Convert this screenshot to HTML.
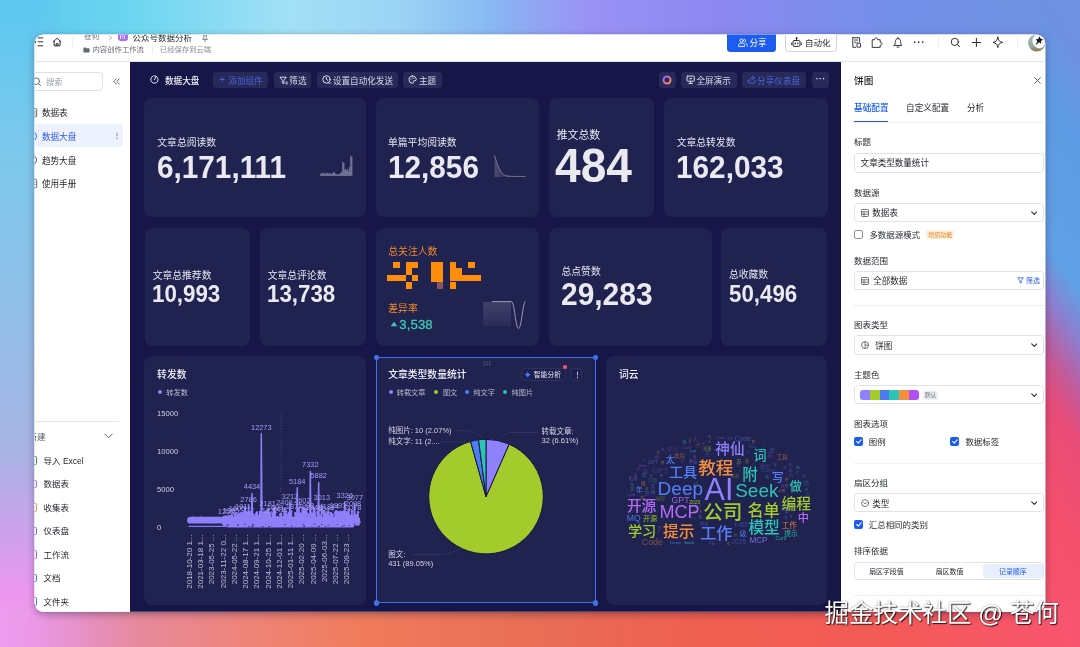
<!DOCTYPE html>
<html lang="zh-CN">
<head>
<meta charset="utf-8">
<title>公众号数据分析 - 数据大盘</title>
<style>
*{box-sizing:border-box;margin:0;padding:0}
html,body{width:1080px;height:647px;overflow:hidden}
body{position:relative;font-family:"Liberation Sans","Noto Sans CJK SC",sans-serif;font-size:8.6px;color:#1f2329;background:#e87058}
.abs,.abs *{position:absolute}
.t{white-space:nowrap;line-height:1;transform:translateY(-50%);margin-top:.07em}
.la{margin-top:0}
#bg{position:absolute;left:0;top:0;width:1080px;height:647px;
background:
linear-gradient(90deg,#5cc6ee 0px,#6cd6f0 130px,#a2e0f5 290px,#9cd4f5 400px,#88b8f2 490px,#9a92f5 590px,#8c88f0 720px,#7290e8 900px,#7092e0 1080px);}
#bgL{position:absolute;left:0;top:0;width:60px;height:647px;background:linear-gradient(180deg,#5cc8f0 0,#7cc8ec 150px,#90c0e8 300px,#a8b4e4 450px,#d0a0ec 540px,#ec98f0 590px,#f092ea 647px);-webkit-mask-image:linear-gradient(90deg,#000 34px,transparent 60px);mask-image:linear-gradient(90deg,#000 34px,transparent 60px)}
#bgB{position:absolute;left:0;top:592px;width:1080px;height:55px;background:linear-gradient(90deg,#ee9cf0 0,#ea98e4 40px,#e690c0 90px,#e88a9c 140px,#ee8478 250px,#f07c5c 360px,#e86e56 540px,#f06050 700px,#f45a58 900px,#f85470 1080px);-webkit-mask-image:linear-gradient(180deg,transparent 0,#000 22px);mask-image:linear-gradient(180deg,transparent 0,#000 22px)}
#bgR{position:absolute;left:1040px;top:0;width:40px;height:647px;background:linear-gradient(235deg,#7090e0 7%,#5c9ce4 21%,#60a0e4 42%,#8a80d0 48.500%,#c05c9c 56%,#e84c78 63%,#f4506c 78%,#f85470 99%)}
#shadow{position:absolute;left:34.5px;top:34.5px;width:1010.8px;height:577.3px;border-radius:9px;box-shadow:0 2px 8px rgba(30,15,50,.38),0 0 2px rgba(30,15,50,.25)}
#win{position:absolute;left:0;top:0;width:1080px;height:647px;clip-path:inset(34.5px 34.7px 35.2px 34.5px round 9px);background:#fff}
#dash{left:130px;top:61.5px;width:711.3px;height:551px;background:#161648}
.card{background:#20224f;border-radius:8px}
#dashc{left:0;top:0;width:0;height:0}
.tb{top:71.6px;height:16.7px;border-radius:3.5px;background:#272958;color:#dadae8;font-size:8.6px}
.ct{font-size:9.8px;color:#f2f2f8;font-weight:500}
.lg{font-size:7.2px;color:#b9b9d0}
.dot{width:4.4px;height:4.4px;border-radius:50%}
.hd{width:5.4px;height:5.4px;border-radius:50%;background:#3d73e6}
.pl{font-size:7.5px;color:#d6d6e6}
.pt{left:854.1px;font-size:8.5px;color:#1f2329}
.bx{left:853.8px;width:190.7px;border:.8px solid #dfe2e6;border-radius:3.500px;background:#fff}
.lab{color:#e6e6f0;font-size:9.8px}
.num{margin-top:0;color:#e9e9ef;font-weight:bold;font-family:"Liberation Sans",sans-serif;transform-origin:left center}
</style>
</head>
<body>
<div id="bg"></div><div id="bgL"></div><div id="bgR"></div><div id="bgB"></div>
<div id="shadow"></div>
<div id="win" class="abs">
<!-- HEADER -->
<div id="hdr" style="left:34px;top:34px;width:1012px;height:27.7px;background:#fff;border-bottom:1px solid #e4e5e9"></div>
<svg style="left:34px;top:34px" width="30" height="16" viewBox="34 34 30 16" fill="none" stroke="#2b2f36" stroke-width="1" stroke-linecap="round"><path d="M38.2 37.9h4.600M38.2 41.800h4.600M38.2 45.800h4.600"/><path d="M34.2 40.2l1.800 1.600-1.800 1.600" stroke-width=".9"/><path d="M53.2 41.800L57.100 38.300 61 41.800M54.2 41.200V45.800H60V41.200M56.2 45.800V43.600H58V45.800" stroke-linejoin="round"/></svg>
<div style="left:72px;top:37px;width:.7px;height:11px;background:#f1f2f5"></div>
<div class="t" style="left:83.7px;top:36.9px;font-size:7.9px;color:#646a73">苍何</div>
<svg style="left:107.5px;top:34.5px" width="5" height="6" viewBox="0 0 5 6" fill="none" stroke="#8f959e" stroke-width=".8"><path d="M1.200.8L3.600 3 1.200 5.200"/></svg>
<div style="left:118px;top:31.8px;width:9.6px;height:9.6px;border-radius:2.4px;background:#a56ef4"></div>
<svg style="left:120.2px;top:34.6px" width="5.2" height="4.800" viewBox="0 0 5.2 4.800" fill="none" stroke="#fff" stroke-width=".9"><path d="M.5.3V3.600c0 .4.300.700.700.700H4c.4 0 .700-.3.700-.7V.3M2.600.3v2"/></svg>
<div class="t" style="left:132.4px;top:37px;font-size:8.5px;color:#1f2329">公众号数据分析</div>
<svg style="left:200.5px;top:34.500px" width="8" height="8" viewBox="0 0 8 8" fill="none" stroke="#646a73" stroke-width=".8" stroke-linecap="round"><path d="M2.400 0L5.600 0M2.800 0V2.600L1.600 4.400H6.400L5.200 2.600V0M4 4.400V7"/></svg>
<svg style="left:82.6px;top:47px" width="7" height="6" viewBox="0 0 7 6"><path d="M.4.900c0-.3.200-.5.500-.5H2.600l.7.800H6.100c.3 0 .5.200.5.500V5c0 .3-.2.500-.5.500H.9C.600 5.500.400 5.300.400 5Z" fill="#646a73"/></svg>
<div class="t" style="left:92.5px;top:49.8px;font-size:7.35px;color:#646a73">内容创作工作流</div>
<div style="left:151.5px;top:45.8px;width:.6px;height:8px;background:#eceef1"></div>
<div class="t" style="left:159.8px;top:49.8px;font-size:7.35px;color:#8a9099">已经保存到云端</div>
<!-- header right -->
<div style="left:726.9px;top:30px;width:49.5px;height:21.7px;border-radius:3.5px;background:#1c5cf0"></div>
<svg style="left:737.6px;top:38px" width="10" height="9" viewBox="0 0 10 9" fill="none" stroke="#fff" stroke-width=".9" stroke-linecap="round"><circle cx="3.600" cy="2.600" r="1.700"/><path d="M.6 8V7.200c0-1.400 1.200-2.200 3-2.200s3 .8 3 2.200V8Z" stroke-linejoin="round"/><path d="M6.600 1.200a1.600 1.600 0 0 1 0 3M8 5.600c.9.300 1.400.9 1.400 1.700V8"/></svg>
<div class="t" style="left:749.5px;top:42.4px;font-size:8.6px;color:#fff">分享</div>
<div style="left:784.5px;top:30px;width:52.8px;height:21.7px;border-radius:3.5px;border:.8px solid #d0d3d9;background:#fff"></div>
<svg style="left:791.3px;top:36.800px" width="11" height="11" viewBox="0 0 11 11" fill="none" stroke="#1f2329" stroke-width=".95" stroke-linecap="round"><rect x="2" y="3.600" width="7" height="5.800" rx="1.200"/><path d="M5.500 1.200V3.600M.7 6v1.600M10.300 6v1.600"/><circle cx="5.500" cy="1.100" r=".5" fill="#1f2329"/><path d="M4.200 6.100v.9M6.800 6.100v.9" stroke-width="1.100"/></svg>
<div class="t" style="left:805px;top:42.4px;font-size:8.5px;color:#1f2329">自动化</div>
<svg style="left:850px;top:36px" width="80" height="14" viewBox="850 36 80 14" fill="none" stroke="#2b2f36" stroke-width=".95" stroke-linecap="round" stroke-linejoin="round">
<path d="M852.8 37.700H859.600V42M852.800 37.700V47.300H855.800M854.600 40H857.800M854.600 42.200H856.200"/><rect x="857" y="43.200" width="3.600" height="4" rx=".5"/>
<path d="M872.600 39.700H874.700C874.600 38.600 875.300 37.800 876.200 37.800S877.800 38.600 877.700 39.700H880.200V42.300C881.300 42.200 882 42.800 882 43.700S881.300 45.200 880.200 45.100V47.400H872.600Z"/>
<path d="M894.200 45.400H901.800C900.800 44.400 900.700 43.400 900.700 41.700 900.700 39.800 899.600 38.600 898 38.600S895.300 39.800 895.300 41.700C895.300 43.400 895.200 44.400 894.200 45.400ZM897 47H899M898 37.500V38.600"/>
</svg>
<div class="t la" style="left:913.300px;top:42.600px;font-size:10px;color:#2b2f36;font-weight:bold;letter-spacing:.6px">···</div>
<div style="left:937.6px;top:37px;width:.7px;height:11px;background:#eceef1"></div>
<svg style="left:948px;top:35px" width="56" height="15" viewBox="948 35 56 15" fill="none" stroke="#2b2f36" stroke-width="1" stroke-linecap="round" stroke-linejoin="round">
<circle cx="954.800" cy="41.900" r="3.600"/><path d="M957.500 44.600L959.600 46.700"/>
<path d="M976.400 38.400V46.600M972.300 42.500H980.500"/>
<path d="M997.800 37.200C998.300 40.500 999.500 41.700 1002.600 42.400 999.500 43.100 998.300 44.300 997.800 47.600 997.300 44.300 996.100 43.100 993 42.400 996.100 41.700 997.300 40.500 997.800 37.200Z"/>
</svg>
<div style="left:1016.8px;top:37px;width:.7px;height:11px;background:#eceef1"></div>
<svg style="left:1026px;top:32px" width="22" height="22" viewBox="1026 32 22 22"><defs><linearGradient id="av" x1="0" y1="0" x2="0" y2="1"><stop offset="0" stop-color="#a9b8b8"/><stop offset=".7" stop-color="#93a7a2"/><stop offset="1" stop-color="#8a7a50"/></linearGradient></defs><circle cx="1036.700" cy="42.800" r="8.600" fill="url(#av)"/><ellipse cx="1038.800" cy="41.300" rx="6.300" ry="7" transform="rotate(-25 1038.800 41.300)" fill="#fbfbfb"/><path d="M1039.500 36.200L1040.700 38.800 1043.200 39.600 1041 41 1041.200 43.800 1039.200 42.200 1035.500 45.200 1037.400 41.200 1035.800 39.200 1038.300 39Z" fill="#15181c"/></svg>

<!-- SIDEBAR -->
<div id="side" style="left:34px;top:61.7px;width:96px;height:551px;background:#fff"></div>
<div style="left:28px;top:71.9px;width:74.5px;height:19.6px;border:.8px solid #dcdfe4;border-radius:4px"></div>
<svg style="left:33px;top:77px" width="9" height="10" viewBox="0 0 9 10" fill="none" stroke="#646a73" stroke-width="1" stroke-linecap="round"><circle cx="3.200" cy="4.200" r="3.300"/><path d="M5.700 6.800L7.600 8.800"/></svg>
<div class="t" style="left:46.2px;top:82.3px;font-size:8.1px;color:#9aa0a8">搜索</div>
<svg style="left:112.6px;top:78.400px" width="7" height="7" viewBox="0 0 7 7" fill="none" stroke="#50565e" stroke-width=".85" stroke-linecap="round" stroke-linejoin="round"><path d="M3.200.8L.8 3.500 3.200 6.200M6.300.8L3.900 3.500 6.300 6.200"/></svg>
<div style="left:30px;top:123.900px;width:93.2px;height:23.100px;border-radius:4px;background:#eef1fe"></div>
<div class="t" style="left:41.9px;top:112.7px;font-size:8.6px;color:#1f2329">数据表</div>
<div class="t" style="left:41.9px;top:136.2px;font-size:8.6px;color:#2b5bf0">数据大盘</div>
<div class="t" style="left:41.9px;top:160px;font-size:8.6px;color:#1f2329">趋势大盘</div>
<div class="t" style="left:41.9px;top:183.5px;font-size:8.6px;color:#1f2329">使用手册</div>
<svg style="left:34px;top:100px" width="6" height="95" viewBox="34 100 6 95" fill="none" stroke-width=".9">
<rect x="29.500" y="108.500" width="7.200" height="8.400" rx="1" stroke="#50565e"/><path d="M34 111h1.600M34 113h1.600M34 115h1.600" stroke="#50565e"/>
<circle cx="32.600" cy="136.200" r="4" stroke="#2b5bf0"/>
<circle cx="32.600" cy="160" r="4" stroke="#50565e"/>
<rect x="29.500" y="179.300" width="7.200" height="8.400" rx="1" stroke="#50565e"/><path d="M34 182h1.400M34 184.500h1.400" stroke="#50565e"/>
</svg>
<div class="t la" style="left:112.600px;top:136px;font-size:7.5px;color:#8a9099;font-weight:bold">⋮</div>
<div style="left:34px;top:421px;width:85.2px;height:.8px;background:#e4e5e9"></div>
<div class="t" style="left:28.400px;top:436.2px;font-size:8.5px;color:#50565e">新建</div>
<svg style="left:103.600px;top:433px" width="9" height="6" viewBox="0 0 9 6" fill="none" stroke="#50565e" stroke-width=".9" stroke-linecap="round" stroke-linejoin="round"><path d="M.8 1L4.500 4.800 8.200 1"/></svg>
<div class="t" style="left:43.6px;top:460.4px;font-size:8.5px;color:#1f2329">导入 Excel</div>
<div style="left:29.200px;top:456.2px;width:7.600px;height:8.400px;border:1px solid #2ea24a;border-radius:1.5px"></div>
<div class="t" style="left:43.6px;top:483.6px;font-size:8.5px;color:#1f2329">数据表</div>
<div style="left:29.200px;top:479.90000000000003px;width:7.600px;height:8.400px;border:1px solid #8f6cf0;border-radius:1.5px"></div>
<div class="t" style="left:43.6px;top:507.4px;font-size:8.5px;color:#1f2329">收集表</div>
<div style="left:29.200px;top:503.2px;width:7.600px;height:8.400px;border:1px solid #f5913c;border-radius:1.5px"></div>
<div class="t" style="left:43.6px;top:530.5px;font-size:8.5px;color:#1f2329">仪表盘</div>
<div style="left:29.200px;top:526.8px;width:7.600px;height:8.400px;border:1px solid #5a6cf0;border-radius:1.5px"></div>
<div class="t" style="left:43.6px;top:554.5px;font-size:8.5px;color:#1f2329">工作流</div>
<div style="left:29.200px;top:550.3px;width:7.600px;height:8.400px;border:1px solid #a05cf0;border-radius:1.5px"></div>
<div class="t" style="left:43.6px;top:577.8px;font-size:8.5px;color:#1f2329">文档</div>
<div style="left:29.200px;top:573.5999999999999px;width:7.600px;height:8.400px;border:1px solid #3f72f5;border-radius:1.5px"></div>
<div class="t" style="left:43.6px;top:601.5px;font-size:8.5px;color:#1f2329">文件夹</div>
<div style="left:29.200px;top:597.3px;width:7.600px;height:8.400px;border:1px solid #3f72f5;border-radius:1.5px"></div>
<!-- DASHBOARD -->
<div id="dash"></div>
<div id="dashc">
<!-- toolbar -->
<svg style="left:149px;top:74.100px" width="11" height="11" viewBox="0 0 11 11" fill="none" stroke="#e8e8f2" stroke-width="1" stroke-linecap="round"><path d="M4.200 2A3.700 3.700 0 1 0 5.500 1.800"/><path d="M5.500 5.800L6.700 3"/></svg>
<div class="t" style="left:165px;top:80.2px;font-size:8.6px;color:#f2f2f8;font-weight:500">数据大盘</div>
<div class="tb" style="left:212.7px;width:55.6px;color:#4a62d6"><span style="left:6.5px;top:8.3px;font-size:10px" class="t la">+</span><span class="t" style="left:15.6px;top:8.4px">添加组件</span></div>
<div class="tb" style="left:274px;width:37px"><svg style="left:4.600px;top:4px" width="9.400" height="9.400" viewBox="0 0 8 8" fill="none" stroke="#dcdcea" stroke-width=".85"><path d="M.8 1h5.4L4.2 3.6V6.6L2.8 5.8V3.6Z"/><path d="M5.6 5.2h1.8M5.6 6.6h1.8"/></svg><span class="t" style="left:15.3px;top:8.4px">筛选</span></div>
<div class="tb" style="left:317.3px;width:80.4px"><svg style="left:5px;top:3.800px" width="9.300" height="9.300" viewBox="0 0 8.4 8.4" fill="none" stroke="#e0e0ec" stroke-width=".9" stroke-linecap="round"><circle cx="4" cy="4" r="3.3"/><path d="M4 2.2V4l1.2.8"/><path d="M5.6 6.8l1.2 1.2 1.2-1.2" stroke-width=".8"/></svg><span class="t" style="left:15.6px;top:8.4px">设置自动化发送</span></div>
<div class="tb" style="left:403.3px;width:38.4px"><svg style="left:5px;top:3.800px" width="9.300" height="9.300" viewBox="0 0 8.4 8.4" fill="none" stroke="#e0e0ec" stroke-width=".9" stroke-linecap="round"><path d="M4.2.9a3.3 3.3 0 1 0 0 6.6c.8 0 .9-.7.6-1.1-.4-.6 0-1.200.700-1.200h.8c.8 0 1.200-.5 1.200-1.200C7.500 2.400 6.100.9 4.200.9Z"/><path d="M2.600 3.800v0M3.800 2.600v0M5.500 2.900v0" stroke-width="1"/></svg><span class="t" style="left:15.6px;top:8.4px">主题</span></div>
<div class="tb" style="left:658.9px;width:17.1px"><svg style="left:3.5px;top:3.3px" width="10" height="10" viewBox="0 0 10 10" fill="none"><defs><linearGradient id="rg" x1="0" y1="0" x2="1" y2="1"><stop offset="0" stop-color="#7b6bff"/><stop offset=".5" stop-color="#e86aa8"/><stop offset="1" stop-color="#ff9a3c"/></linearGradient></defs><circle cx="5" cy="5" r="3.5" stroke="url(#rg)" stroke-width="2"/></svg></div>
<div class="tb" style="left:680.8px;width:55.8px"><svg style="left:5px;top:3.800px" width="9.300" height="9.300" viewBox="0 0 8.4 8.4" fill="none" stroke="#e0e0ec" stroke-width=".9" stroke-linecap="round"><rect x=".9" y="1" width="6.6" height="4.6" rx=".6"/><path d="M4.200 5.600v1.800M2.600 7.600h3.200M3.200 3.300h2"/></svg><span class="t" style="left:15.6px;top:8.4px">全屏演示</span></div>
<div class="tb" style="left:741.5px;width:64.7px;color:#4a66da"><svg style="left:5px;top:3.800px" width="9.300" height="9.300" viewBox="0 0 8.4 8.4" fill="none" stroke="#4a66da" stroke-width=".9" stroke-linecap="round" stroke-linejoin="round"><path d="M1.200 4.800v1.800c0 .4.300.700.700.700h4.600c.4 0 .700-.3.700-.7V4.800"/><path d="M5 1l1.800 1.600L5 4.200M6.600 2.600H4.400C3 2.600 2.400 3.600 2.400 4.800"/></svg><span class="t" style="left:15.6px;top:8.4px">分享仪表盘</span></div>
<div class="tb" style="left:812px;width:16.6px"><span class="t la" style="left:3.8px;top:7.6px;font-size:9px;letter-spacing:.2px;font-weight:bold">···</span></div>

<!-- row 1 -->
<div class="card" style="left:144px;top:98.3px;width:222px;height:119px"></div>
<div class="t lab" style="left:157.3px;top:142.3px">文章总阅读数</div>
<div class="t num" style="left:156.5px;top:166.8px;font-size:31px;transform:translateY(-50%) scaleX(.959)">6,171,111</div>
<svg style="left:0;top:0" width="1080" height="647" fill="#9496b2" opacity=".85"><rect x="320.3" y="173.9" width="1.05" height="2"/><rect x="321.3" y="172.9" width="1.05" height="3"/><rect x="322.3" y="172.9" width="1.05" height="3"/><rect x="323.3" y="173.9" width="1.05" height="2"/><rect x="324.3" y="172.9" width="1.05" height="3"/><rect x="325.3" y="173.9" width="1.05" height="2"/><rect x="326.3" y="172.9" width="1.05" height="3"/><rect x="327.3" y="172.9" width="1.05" height="3"/><rect x="328.3" y="173.9" width="1.05" height="2"/><rect x="329.3" y="172.9" width="1.05" height="3"/><rect x="330.3" y="173.9" width="1.05" height="2"/><rect x="331.3" y="173.9" width="1.05" height="2"/><rect x="332.3" y="172.9" width="1.05" height="3"/><rect x="333.3" y="171.9" width="1.05" height="4"/><rect x="334.3" y="172.9" width="1.05" height="3"/><rect x="335.3" y="173.9" width="1.05" height="2"/><rect x="336.3" y="174.4" width="1.05" height="1.5"/><rect x="337.3" y="174.4" width="1.05" height="1.5"/><rect x="338.3" y="173.9" width="1.05" height="2"/><rect x="339.3" y="173.9" width="1.05" height="2"/><rect x="340.3" y="172.9" width="1.05" height="3"/><rect x="341.3" y="171.9" width="1.05" height="4"/><rect x="342.3" y="161.9" width="1.05" height="14"/><rect x="343.3" y="162.9" width="1.05" height="13"/><rect x="344.3" y="169.9" width="1.05" height="6"/><rect x="345.3" y="168.9" width="1.05" height="7"/><rect x="346.3" y="170.9" width="1.05" height="5"/><rect x="347.3" y="168.9" width="1.05" height="7"/><rect x="348.3" y="171.9" width="1.05" height="4"/><rect x="349.3" y="166.9" width="1.05" height="9"/><rect x="350.3" y="155.9" width="1.05" height="20"/><rect x="351.3" y="156.9" width="1.05" height="19"/></svg>
<div class="card" style="left:375.5px;top:98.3px;width:163.4px;height:119px"></div>
<div class="t lab" style="left:388px;top:142.3px">单篇平均阅读数</div>
<div class="t num" style="left:387.5px;top:166.8px;font-size:31px;transform:translateY(-50%) scaleX(.959)">12,856</div>
<svg style="left:494px;top:154px" width="33" height="24" viewBox="0 0 33 24" fill="none"><defs><linearGradient id="g2" x1="0" y1="0" x2="1" y2="0"><stop offset="0" stop-color="#6c6d88" stop-opacity=".55"/><stop offset=".5" stop-color="#6c6d88" stop-opacity="0"/></linearGradient></defs><path d="M.5 1.500C3 9 5.500 18 10 21.200 13 22.600 20 22.500 31.500 22.400V23H.5Z" fill="url(#g2)"/><path d="M.5 1.500C3 9 5.500 18 10 21.200 13 22.600 20 22.500 31.500 22.400" stroke="#77798f" stroke-width="1"/></svg>
<div class="card" style="left:548.7px;top:98.3px;width:105.7px;height:119px"></div>
<div class="t" style="left:556.7px;top:134.4px;font-size:10.9px;color:#ececf4">推文总数</div>
<div class="t num" style="left:555.2px;top:166.4px;font-size:47.2px;transform:translateY(-50%) scaleX(.978)">484</div>
<div class="card" style="left:664.2px;top:98.3px;width:163.6px;height:119px"></div>
<div class="t lab" style="left:676.7px;top:142.3px">文章总转发数</div>
<div class="t num" style="left:675.8px;top:166.8px;font-size:31px;transform:translateY(-50%) scaleX(.96)">162,033</div>

<!-- row 2 -->
<div class="card" style="left:145px;top:227.6px;width:105px;height:118.6px"></div>
<div class="t lab" style="left:152.7px;top:275.3px">文章总推荐数</div>
<div class="t num" style="left:151.6px;top:294.6px;font-size:23.6px;transform:translateY(-50%) scaleX(.946)">10,993</div>
<div class="card" style="left:260px;top:227.6px;width:106px;height:118.6px"></div>
<div class="t lab" style="left:267.7px;top:275.3px">文章总评论数</div>
<div class="t num" style="left:266.6px;top:294.6px;font-size:23.6px;transform:translateY(-50%) scaleX(.946)">13,738</div>
<div class="card" style="left:375.5px;top:227.6px;width:163.4px;height:118.6px"></div>
<div class="t" style="left:388.3px;top:251.2px;font-size:9.8px;color:#f08a2a">总关注人数</div>
<svg id="mosaic" style="left:387px;top:261.7px" width="94" height="27.2" viewBox="0 0 15 4.340" preserveAspectRatio="none" fill="#ff8c0a" shape-rendering="crispEdges">
<rect x="1" y="0" width="1" height="1"/><rect x="3" y="0" width="2" height="1"/><rect x="7" y="0" width="2" height="3.200"/><rect x="10" y="0" width="1" height="3"/><rect x="13" y="0" width="1" height="1"/>
<rect x="3" y="1" width="1" height="1"/><rect x="11" y="1" width="1" height="1"/>
<rect x="0" y="2.100" width="3" height="1"/><rect x="4" y="2.100" width="1" height="1"/><rect x="11" y="2.100" width="4" height="1"/>
<rect x="3" y="3.200" width="1" height="1.100"/><rect x="8" y="3.200" width="1" height="1.100" fill="#8a5560"/><rect x="10" y="3.200" width="1" height="1.100"/>
</svg>
<div class="t" style="left:388.3px;top:308.3px;font-size:9.8px;color:#f08a2a">差异率</div>
<svg style="left:389.500px;top:321px" width="8" height="6" viewBox="0 0 8 6"><path d="M4 .8L7.400 5.200H.6Z" fill="#3cc8b4"/></svg>
<div class="t la" style="left:399.3px;top:325.1px;font-size:13.2px;color:#3cc8b4;font-family:'Liberation Sans',sans-serif;letter-spacing:.1px;-webkit-text-stroke:.3px #3cc8b4">3,538</div>
<svg style="left:482px;top:299px" width="46" height="33" viewBox="0 0 46 33" fill="none"><defs><linearGradient id="g3" x1="0" y1="0" x2="0" y2="1"><stop offset="0" stop-color="#8a8ca8" stop-opacity=".3"/><stop offset="1" stop-color="#8a8ca8" stop-opacity=".1"/></linearGradient></defs><path d="M1 2.800H29V27H1Z" fill="url(#g3)"/><path d="M10 2.600H29.500C32.500 2.600 33.500 29.500 36.500 29.500S40.500 6 43.200 2.400" stroke="#9a9cb4" stroke-width="1"/></svg>
<div class="card" style="left:548.6px;top:227.6px;width:163px;height:118.6px"></div>
<div class="t lab" style="left:561.5px;top:271px">总点赞数</div>
<div class="t num" style="left:560.8px;top:294.9px;font-size:31.8px;transform:translateY(-50%) scaleX(.941)">29,283</div>
<div class="card" style="left:721.4px;top:227.6px;width:106px;height:118.6px"></div>
<div class="t lab" style="left:728.9px;top:274.5px">总收藏数</div>
<div class="t num" style="left:729px;top:294.6px;font-size:23.6px;transform:translateY(-50%) scaleX(.946)">50,496</div>
<!-- row 3 -->
<div class="card" style="left:144.2px;top:356.3px;width:221.6px;height:248.3px"></div>
<div class="t ct" style="left:157.1px;top:374.3px">转发数</div>
<div style="left:157.8px;top:390.1px;width:4.4px;height:4.4px;border-radius:50%;background:#8f7ffa"></div>
<div class="t lg" style="left:166.3px;top:392.4px">转发数</div>
<svg style="left:0;top:0" width="1080" height="647" font-family="Liberation Sans, sans-serif">
<path d="M187 489.1H360" stroke="#34366a" stroke-width=".6" stroke-dasharray="1.5 1.5" opacity=".5"/><path d="M187 451.1H360" stroke="#34366a" stroke-width=".6" stroke-dasharray="1.5 1.5" opacity=".18"/><path d="M187 413.0H360" stroke="#34366a" stroke-width=".6" stroke-dasharray="1.5 1.5" opacity=".18"/>
<path d="M281 413V527" stroke="#4a4c78" stroke-width=".7" stroke-dasharray="1.5 1.5"/>

<g font-size="7.6" fill="#d4d4e4"><text x="157" y="529.9">0</text><text x="157" y="491.8">5000</text><text x="157" y="453.8">10000</text><text x="157" y="415.7">15000</text></g>
<g font-size="8" fill="#bfbfd4"><text transform="translate(191.9 534.5) rotate(-90)" text-anchor="end">2018-10-20 1...</text><text transform="translate(203.1 534.5) rotate(-90)" text-anchor="end">2021-03-18 1...</text><text transform="translate(214.4 534.5) rotate(-90)" text-anchor="end">2023-05-25 ...</text><text transform="translate(225.6 534.5) rotate(-90)" text-anchor="end">2023-11-22 0...</text><text transform="translate(236.8 534.5) rotate(-90)" text-anchor="end">2024-05-22 ...</text><text transform="translate(248.1 534.5) rotate(-90)" text-anchor="end">2024-08-17 1...</text><text transform="translate(259.3 534.5) rotate(-90)" text-anchor="end">2024-09-21 1...</text><text transform="translate(270.6 534.5) rotate(-90)" text-anchor="end">2024-10-25 1...</text><text transform="translate(281.8 534.5) rotate(-90)" text-anchor="end">2024-12-01 1...</text><text transform="translate(293.0 534.5) rotate(-90)" text-anchor="end">2025-01-11 1...</text><text transform="translate(304.3 534.5) rotate(-90)" text-anchor="end">2025-02-20 ...</text><text transform="translate(315.5 534.5) rotate(-90)" text-anchor="end">2025-04-09 ...</text><text transform="translate(326.7 534.5) rotate(-90)" text-anchor="end">2025-06-03...</text><text transform="translate(338.0 534.5) rotate(-90)" text-anchor="end">2025-07-22 ...</text><text transform="translate(349.2 534.5) rotate(-90)" text-anchor="end">2025-09-23 ...</text></g>
<path d="M188.3 520.5 L188.8 519.1 L189.3 519.6 L189.8 521.6 L190.3 521.7 L190.8 521.6 L191.3 520.1 L191.8 521.4 L192.3 519.2 L192.8 519.5 L193.3 517.8 L193.9 518.3 L194.4 521.3 L194.9 520.6 L195.4 521.1 L195.9 519.2 L196.4 519.6 L196.9 521.6 L197.4 519.0 L197.9 520.6 L198.4 520.0 L198.9 518.5 L199.4 520.8 L199.9 519.7 L200.4 518.8 L200.9 517.8 L201.4 520.1 L201.9 521.2 L202.4 521.7 L202.9 518.7 L203.4 518.2 L203.9 519.0 L204.5 519.4 L205.0 518.4 L205.5 519.9 L206.0 521.6 L206.5 519.2 L207.0 518.4 L207.5 520.3 L208.0 521.8 L208.5 521.2 L209.0 521.6 L209.5 521.3 L210.0 520.2 L210.5 521.5 L211.0 519.6 L211.5 518.4 L212.0 520.7 L212.5 520.4 L213.0 517.9 L213.5 521.1 L214.0 520.9 L214.5 519.4 L215.1 521.9 L215.6 520.3 L216.1 517.9 L216.6 519.7 L217.1 519.0 L217.6 518.1 L218.1 518.2 L218.6 520.2 L219.1 521.4 L219.6 521.6 L220.1 521.0 L220.6 520.4 L221.1 521.9 L221.6 521.4 L222.1 521.8 L222.6 518.7 L223.1 521.4 L223.6 520.5 L224.1 516.7 L224.6 519.7 L225.1 522.7 L225.6 520.6 L226.2 516.5 L226.7 523.2 L227.2 518.9 L227.7 518.8 L228.2 518.8 L228.7 515.9 L229.2 521.1 L229.7 521.9 L230.2 518.6 L230.7 520.4 L231.2 516.0 L231.7 515.5 L232.2 515.8 L232.7 521.3 L233.2 520.0 L233.7 523.1 L234.2 520.9 L234.7 514.0 L235.2 514.1 L235.7 513.9 L236.2 521.2 L236.8 521.4 L237.3 517.0 L237.8 514.7 L238.3 516.6 L238.8 522.5 L239.3 513.8 L239.8 515.4 L240.3 521.5 L240.8 519.8 L241.3 512.7 L241.8 519.0 L242.3 515.3 L242.8 522.0 L243.3 513.2 L243.8 521.7 L244.3 512.1 L244.8 519.3 L245.3 507.6 L245.8 515.8 L246.3 512.3 L246.8 513.0 L247.4 520.9 L247.9 519.8 L248.6 506.0 L248.9 519.2 L249.4 512.4 L249.9 518.6 L250.4 512.5 L250.9 512.3 L251.4 517.6 L252.0 493.4 L252.4 509.1 L252.9 522.6 L253.4 515.0 L253.9 520.4 L254.4 517.3 L254.9 523.5 L255.4 521.5 L255.9 514.3 L256.4 517.2 L256.9 512.4 L257.4 516.5 L258.0 517.9 L258.5 518.7 L259.0 518.4 L259.5 515.3 L260.0 512.0 L260.5 517.2 L261.0 513.4 L261.3 433.8 L262.0 523.9 L262.5 523.9 L263.0 514.2 L263.5 522.8 L264.0 515.9 L264.5 512.8 L265.0 521.9 L265.5 519.5 L266.0 511.4 L266.5 522.7 L267.0 517.9 L267.7 510.6 L268.0 511.1 L268.6 513.0 L269.1 516.4 L269.6 524.0 L270.1 514.1 L270.6 523.5 L271.1 524.4 L271.6 521.2 L272.1 519.1 L272.6 513.7 L273.1 522.9 L273.6 517.1 L274.1 510.0 L274.6 507.9 L275.0 514.3 L275.6 523.8 L276.1 524.0 L276.6 518.7 L277.1 517.3 L277.6 521.2 L278.1 517.7 L278.6 523.4 L279.1 524.2 L279.7 520.6 L280.2 514.5 L280.7 518.1 L281.2 513.7 L281.7 524.7 L282.2 517.4 L282.7 518.4 L283.2 523.5 L283.7 519.0 L284.4 508.9 L284.7 518.0 L285.2 511.5 L285.7 513.5 L286.2 516.2 L286.7 514.7 L287.2 523.9 L287.7 521.4 L288.2 523.8 L288.7 513.0 L289.2 521.1 L290.0 502.7 L290.3 522.8 L290.8 521.3 L291.3 511.6 L291.8 521.6 L292.3 520.7 L292.8 524.9 L293.3 518.4 L293.8 522.2 L294.3 524.8 L294.8 523.7 L295.3 513.2 L295.8 521.7 L296.3 517.7 L296.8 515.9 L297.2 487.7 L297.8 520.4 L298.3 522.9 L298.8 508.8 L299.3 512.7 L299.8 514.9 L300.3 523.0 L300.9 518.0 L301.4 513.9 L301.9 516.9 L302.3 507.4 L302.9 514.7 L303.4 508.8 L303.9 517.3 L304.4 516.3 L304.9 509.1 L305.4 514.7 L305.9 517.6 L306.5 508.9 L306.9 513.6 L307.4 514.9 L307.9 514.8 L308.4 518.1 L308.9 518.4 L309.4 514.4 L309.9 514.5 L310.3 471.4 L310.9 520.7 L311.5 513.5 L312.0 515.7 L312.5 515.7 L313.0 517.8 L313.5 508.3 L314.0 522.2 L314.5 509.7 L315.0 513.7 L315.5 518.8 L316.0 522.0 L316.5 522.0 L317.0 523.0 L317.5 511.9 L318.0 513.7 L318.7 482.4 L319.0 521.7 L319.5 515.7 L320.0 518.2 L320.5 520.8 L321.0 520.2 L321.5 509.5 L321.8 504.3 L322.6 512.2 L323.1 512.6 L323.6 519.8 L324.1 511.2 L324.6 520.0 L325.1 514.9 L325.6 513.5 L326.0 514.3 L326.6 521.3 L327.1 522.3 L327.6 511.8 L328.1 513.8 L328.6 512.4 L329.1 517.4 L329.6 524.2 L330.1 518.7 L330.6 516.1 L331.0 513.2 L331.6 523.2 L332.1 520.2 L332.6 514.8 L333.2 521.4 L333.7 520.8 L334.2 519.5 L334.7 522.7 L335.2 512.5 L335.7 521.9 L336.2 511.3 L336.7 523.0 L337.2 523.7 L337.7 523.7 L338.0 512.0 L338.7 512.8 L339.2 519.3 L339.7 517.7 L340.2 513.5 L340.7 511.7 L341.2 518.0 L341.7 513.1 L342.2 521.2 L342.7 519.4 L343.2 511.8 L343.8 515.5 L344.3 515.2 L344.8 501.9 L345.3 524.9 L345.8 512.2 L346.3 513.2 L346.8 514.5 L347.3 517.8 L347.8 512.0 L348.3 516.0 L349.0 509.7 L349.3 524.4 L349.8 521.7 L350.3 516.1 L350.8 523.2 L351.3 516.2 L352.0 511.2 L352.3 516.9 L352.8 521.9 L353.3 524.8 L353.8 518.6 L354.5 503.8 L354.9 518.4 L355.4 521.5 L355.9 515.3 L356.4 524.6 L356.9 515.7 L357.5 515.8 L357.9 512.2 L358.4 524.4 L358.9 519.2 L359.4 522.2" fill="none" stroke="#8f7ffa" stroke-width="1.5" stroke-linejoin="round"/>
<g fill="#8f7ffa"><circle cx="188.3" cy="520.5" r="1.25"/><circle cx="188.8" cy="519.1" r="1.25"/><circle cx="189.3" cy="519.6" r="1.25"/><circle cx="189.8" cy="521.6" r="1.25"/><circle cx="190.3" cy="521.7" r="1.25"/><circle cx="190.8" cy="521.6" r="1.25"/><circle cx="191.3" cy="520.1" r="1.25"/><circle cx="191.8" cy="521.4" r="1.25"/><circle cx="192.3" cy="519.2" r="1.25"/><circle cx="192.8" cy="519.5" r="1.25"/><circle cx="193.3" cy="517.8" r="1.25"/><circle cx="193.9" cy="518.3" r="1.25"/><circle cx="194.4" cy="521.3" r="1.25"/><circle cx="194.9" cy="520.6" r="1.25"/><circle cx="195.4" cy="521.1" r="1.25"/><circle cx="195.9" cy="519.2" r="1.25"/><circle cx="196.4" cy="519.6" r="1.25"/><circle cx="196.9" cy="521.6" r="1.25"/><circle cx="197.4" cy="519.0" r="1.25"/><circle cx="197.9" cy="520.6" r="1.25"/><circle cx="198.4" cy="520.0" r="1.25"/><circle cx="198.9" cy="518.5" r="1.25"/><circle cx="199.4" cy="520.8" r="1.25"/><circle cx="199.9" cy="519.7" r="1.25"/><circle cx="200.4" cy="518.8" r="1.25"/><circle cx="200.9" cy="517.8" r="1.25"/><circle cx="201.4" cy="520.1" r="1.25"/><circle cx="201.9" cy="521.2" r="1.25"/><circle cx="202.4" cy="521.7" r="1.25"/><circle cx="202.9" cy="518.7" r="1.25"/><circle cx="203.4" cy="518.2" r="1.25"/><circle cx="203.9" cy="519.0" r="1.25"/><circle cx="204.5" cy="519.4" r="1.25"/><circle cx="205.0" cy="518.4" r="1.25"/><circle cx="205.5" cy="519.9" r="1.25"/><circle cx="206.0" cy="521.6" r="1.25"/><circle cx="206.5" cy="519.2" r="1.25"/><circle cx="207.0" cy="518.4" r="1.25"/><circle cx="207.5" cy="520.3" r="1.25"/><circle cx="208.0" cy="521.8" r="1.25"/><circle cx="208.5" cy="521.2" r="1.25"/><circle cx="209.0" cy="521.6" r="1.25"/><circle cx="209.5" cy="521.3" r="1.25"/><circle cx="210.0" cy="520.2" r="1.25"/><circle cx="210.5" cy="521.5" r="1.25"/><circle cx="211.0" cy="519.6" r="1.25"/><circle cx="211.5" cy="518.4" r="1.25"/><circle cx="212.0" cy="520.7" r="1.25"/><circle cx="212.5" cy="520.4" r="1.25"/><circle cx="213.0" cy="517.9" r="1.25"/><circle cx="213.5" cy="521.1" r="1.25"/><circle cx="214.0" cy="520.9" r="1.25"/><circle cx="214.5" cy="519.4" r="1.25"/><circle cx="215.1" cy="521.9" r="1.25"/><circle cx="215.6" cy="520.3" r="1.25"/><circle cx="216.1" cy="517.9" r="1.25"/><circle cx="216.6" cy="519.7" r="1.25"/><circle cx="217.1" cy="519.0" r="1.25"/><circle cx="217.6" cy="518.1" r="1.25"/><circle cx="218.1" cy="518.2" r="1.25"/><circle cx="218.6" cy="520.2" r="1.25"/><circle cx="219.1" cy="521.4" r="1.25"/><circle cx="219.6" cy="521.6" r="1.25"/><circle cx="220.1" cy="521.0" r="1.25"/><circle cx="220.6" cy="520.4" r="1.25"/><circle cx="221.1" cy="521.9" r="1.25"/><circle cx="221.6" cy="521.4" r="1.25"/><circle cx="222.1" cy="521.8" r="1.25"/><circle cx="222.6" cy="518.7" r="1.25"/><circle cx="223.1" cy="521.4" r="1.25"/><circle cx="223.6" cy="520.5" r="1.25"/><circle cx="224.1" cy="516.7" r="1.25"/><circle cx="224.6" cy="519.7" r="1.25"/><circle cx="225.1" cy="522.7" r="1.25"/><circle cx="225.6" cy="520.6" r="1.25"/><circle cx="226.2" cy="516.5" r="1.25"/><circle cx="226.7" cy="523.2" r="1.25"/><circle cx="227.2" cy="518.9" r="1.25"/><circle cx="227.7" cy="518.8" r="1.25"/><circle cx="228.2" cy="518.8" r="1.25"/><circle cx="228.7" cy="515.9" r="1.25"/><circle cx="229.2" cy="521.1" r="1.25"/><circle cx="229.7" cy="521.9" r="1.25"/><circle cx="230.2" cy="518.6" r="1.25"/><circle cx="230.7" cy="520.4" r="1.25"/><circle cx="231.2" cy="516.0" r="1.25"/><circle cx="231.7" cy="515.5" r="1.25"/><circle cx="232.2" cy="515.8" r="1.25"/><circle cx="232.7" cy="521.3" r="1.25"/><circle cx="233.2" cy="520.0" r="1.25"/><circle cx="233.7" cy="523.1" r="1.25"/><circle cx="234.2" cy="520.9" r="1.25"/><circle cx="234.7" cy="514.0" r="1.25"/><circle cx="235.2" cy="514.1" r="1.25"/><circle cx="235.7" cy="513.9" r="1.25"/><circle cx="236.2" cy="521.2" r="1.25"/><circle cx="236.8" cy="521.4" r="1.25"/><circle cx="237.3" cy="517.0" r="1.25"/><circle cx="237.8" cy="514.7" r="1.25"/><circle cx="238.3" cy="516.6" r="1.25"/><circle cx="238.8" cy="522.5" r="1.25"/><circle cx="239.3" cy="513.8" r="1.25"/><circle cx="239.8" cy="515.4" r="1.25"/><circle cx="240.3" cy="521.5" r="1.25"/><circle cx="240.8" cy="519.8" r="1.25"/><circle cx="241.3" cy="512.7" r="1.25"/><circle cx="241.8" cy="519.0" r="1.25"/><circle cx="242.3" cy="515.3" r="1.25"/><circle cx="242.8" cy="522.0" r="1.25"/><circle cx="243.3" cy="513.2" r="1.25"/><circle cx="243.8" cy="521.7" r="1.25"/><circle cx="244.3" cy="512.1" r="1.25"/><circle cx="244.8" cy="519.3" r="1.25"/><circle cx="245.3" cy="507.6" r="1.25"/><circle cx="245.8" cy="515.8" r="1.25"/><circle cx="246.3" cy="512.3" r="1.25"/><circle cx="246.8" cy="513.0" r="1.25"/><circle cx="247.4" cy="520.9" r="1.25"/><circle cx="247.9" cy="519.8" r="1.25"/><circle cx="248.9" cy="519.2" r="1.25"/><circle cx="249.4" cy="512.4" r="1.25"/><circle cx="249.9" cy="518.6" r="1.25"/><circle cx="250.4" cy="512.5" r="1.25"/><circle cx="250.9" cy="512.3" r="1.25"/><circle cx="251.4" cy="517.6" r="1.25"/><circle cx="252.4" cy="509.1" r="1.25"/><circle cx="252.9" cy="522.6" r="1.25"/><circle cx="253.4" cy="515.0" r="1.25"/><circle cx="253.9" cy="520.4" r="1.25"/><circle cx="254.4" cy="517.3" r="1.25"/><circle cx="254.9" cy="523.5" r="1.25"/><circle cx="255.4" cy="521.5" r="1.25"/><circle cx="255.9" cy="514.3" r="1.25"/><circle cx="256.4" cy="517.2" r="1.25"/><circle cx="256.9" cy="512.4" r="1.25"/><circle cx="257.4" cy="516.5" r="1.25"/><circle cx="258.0" cy="517.9" r="1.25"/><circle cx="258.5" cy="518.7" r="1.25"/><circle cx="259.0" cy="518.4" r="1.25"/><circle cx="259.5" cy="515.3" r="1.25"/><circle cx="260.0" cy="512.0" r="1.25"/><circle cx="260.5" cy="517.2" r="1.25"/><circle cx="261.0" cy="513.4" r="1.25"/><circle cx="262.0" cy="523.9" r="1.25"/><circle cx="262.5" cy="523.9" r="1.25"/><circle cx="263.0" cy="514.2" r="1.25"/><circle cx="263.5" cy="522.8" r="1.25"/><circle cx="264.0" cy="515.9" r="1.25"/><circle cx="264.5" cy="512.8" r="1.25"/><circle cx="265.0" cy="521.9" r="1.25"/><circle cx="265.5" cy="519.5" r="1.25"/><circle cx="266.0" cy="511.4" r="1.25"/><circle cx="266.5" cy="522.7" r="1.25"/><circle cx="267.0" cy="517.9" r="1.25"/><circle cx="267.7" cy="510.6" r="1.25"/><circle cx="268.0" cy="511.1" r="1.25"/><circle cx="268.6" cy="513.0" r="1.25"/><circle cx="269.1" cy="516.4" r="1.25"/><circle cx="269.6" cy="524.0" r="1.25"/><circle cx="270.1" cy="514.1" r="1.25"/><circle cx="270.6" cy="523.5" r="1.25"/><circle cx="271.1" cy="524.4" r="1.25"/><circle cx="271.6" cy="521.2" r="1.25"/><circle cx="272.1" cy="519.1" r="1.25"/><circle cx="272.6" cy="513.7" r="1.25"/><circle cx="273.1" cy="522.9" r="1.25"/><circle cx="273.6" cy="517.1" r="1.25"/><circle cx="274.1" cy="510.0" r="1.25"/><circle cx="274.6" cy="507.9" r="1.25"/><circle cx="275.0" cy="514.3" r="1.25"/><circle cx="275.6" cy="523.8" r="1.25"/><circle cx="276.1" cy="524.0" r="1.25"/><circle cx="276.6" cy="518.7" r="1.25"/><circle cx="277.1" cy="517.3" r="1.25"/><circle cx="277.6" cy="521.2" r="1.25"/><circle cx="278.1" cy="517.7" r="1.25"/><circle cx="278.6" cy="523.4" r="1.25"/><circle cx="279.1" cy="524.2" r="1.25"/><circle cx="279.7" cy="520.6" r="1.25"/><circle cx="280.2" cy="514.5" r="1.25"/><circle cx="280.7" cy="518.1" r="1.25"/><circle cx="281.2" cy="513.7" r="1.25"/><circle cx="281.7" cy="524.7" r="1.25"/><circle cx="282.2" cy="517.4" r="1.25"/><circle cx="282.7" cy="518.4" r="1.25"/><circle cx="283.2" cy="523.5" r="1.25"/><circle cx="283.7" cy="519.0" r="1.25"/><circle cx="284.4" cy="508.9" r="1.25"/><circle cx="284.7" cy="518.0" r="1.25"/><circle cx="285.2" cy="511.5" r="1.25"/><circle cx="285.7" cy="513.5" r="1.25"/><circle cx="286.2" cy="516.2" r="1.25"/><circle cx="286.7" cy="514.7" r="1.25"/><circle cx="287.2" cy="523.9" r="1.25"/><circle cx="287.7" cy="521.4" r="1.25"/><circle cx="288.2" cy="523.8" r="1.25"/><circle cx="288.7" cy="513.0" r="1.25"/><circle cx="289.2" cy="521.1" r="1.25"/><circle cx="290.3" cy="522.8" r="1.25"/><circle cx="290.8" cy="521.3" r="1.25"/><circle cx="291.3" cy="511.6" r="1.25"/><circle cx="291.8" cy="521.6" r="1.25"/><circle cx="292.3" cy="520.7" r="1.25"/><circle cx="292.8" cy="524.9" r="1.25"/><circle cx="293.3" cy="518.4" r="1.25"/><circle cx="293.8" cy="522.2" r="1.25"/><circle cx="294.3" cy="524.8" r="1.25"/><circle cx="294.8" cy="523.7" r="1.25"/><circle cx="295.3" cy="513.2" r="1.25"/><circle cx="295.8" cy="521.7" r="1.25"/><circle cx="296.3" cy="517.7" r="1.25"/><circle cx="296.8" cy="515.9" r="1.25"/><circle cx="297.8" cy="520.4" r="1.25"/><circle cx="298.3" cy="522.9" r="1.25"/><circle cx="298.8" cy="508.8" r="1.25"/><circle cx="299.3" cy="512.7" r="1.25"/><circle cx="299.8" cy="514.9" r="1.25"/><circle cx="300.3" cy="523.0" r="1.25"/><circle cx="300.9" cy="518.0" r="1.25"/><circle cx="301.4" cy="513.9" r="1.25"/><circle cx="301.9" cy="516.9" r="1.25"/><circle cx="302.3" cy="507.4" r="1.25"/><circle cx="302.9" cy="514.7" r="1.25"/><circle cx="303.4" cy="508.8" r="1.25"/><circle cx="303.9" cy="517.3" r="1.25"/><circle cx="304.4" cy="516.3" r="1.25"/><circle cx="304.9" cy="509.1" r="1.25"/><circle cx="305.4" cy="514.7" r="1.25"/><circle cx="305.9" cy="517.6" r="1.25"/><circle cx="306.5" cy="508.9" r="1.25"/><circle cx="306.9" cy="513.6" r="1.25"/><circle cx="307.4" cy="514.9" r="1.25"/><circle cx="307.9" cy="514.8" r="1.25"/><circle cx="308.4" cy="518.1" r="1.25"/><circle cx="308.9" cy="518.4" r="1.25"/><circle cx="309.4" cy="514.4" r="1.25"/><circle cx="309.9" cy="514.5" r="1.25"/><circle cx="310.9" cy="520.7" r="1.25"/><circle cx="311.5" cy="513.5" r="1.25"/><circle cx="312.0" cy="515.7" r="1.25"/><circle cx="312.5" cy="515.7" r="1.25"/><circle cx="313.0" cy="517.8" r="1.25"/><circle cx="313.5" cy="508.3" r="1.25"/><circle cx="314.0" cy="522.2" r="1.25"/><circle cx="314.5" cy="509.7" r="1.25"/><circle cx="315.0" cy="513.7" r="1.25"/><circle cx="315.5" cy="518.8" r="1.25"/><circle cx="316.0" cy="522.0" r="1.25"/><circle cx="316.5" cy="522.0" r="1.25"/><circle cx="317.0" cy="523.0" r="1.25"/><circle cx="317.5" cy="511.9" r="1.25"/><circle cx="318.0" cy="513.7" r="1.25"/><circle cx="319.0" cy="521.7" r="1.25"/><circle cx="319.5" cy="515.7" r="1.25"/><circle cx="320.0" cy="518.2" r="1.25"/><circle cx="320.5" cy="520.8" r="1.25"/><circle cx="321.0" cy="520.2" r="1.25"/><circle cx="321.5" cy="509.5" r="1.25"/><circle cx="322.6" cy="512.2" r="1.25"/><circle cx="323.1" cy="512.6" r="1.25"/><circle cx="323.6" cy="519.8" r="1.25"/><circle cx="324.1" cy="511.2" r="1.25"/><circle cx="324.6" cy="520.0" r="1.25"/><circle cx="325.1" cy="514.9" r="1.25"/><circle cx="325.6" cy="513.5" r="1.25"/><circle cx="326.0" cy="514.3" r="1.25"/><circle cx="326.6" cy="521.3" r="1.25"/><circle cx="327.1" cy="522.3" r="1.25"/><circle cx="327.6" cy="511.8" r="1.25"/><circle cx="328.1" cy="513.8" r="1.25"/><circle cx="328.6" cy="512.4" r="1.25"/><circle cx="329.1" cy="517.4" r="1.25"/><circle cx="329.6" cy="524.2" r="1.25"/><circle cx="330.1" cy="518.7" r="1.25"/><circle cx="330.6" cy="516.1" r="1.25"/><circle cx="331.0" cy="513.2" r="1.25"/><circle cx="331.6" cy="523.2" r="1.25"/><circle cx="332.1" cy="520.2" r="1.25"/><circle cx="332.6" cy="514.8" r="1.25"/><circle cx="333.2" cy="521.4" r="1.25"/><circle cx="333.7" cy="520.8" r="1.25"/><circle cx="334.2" cy="519.5" r="1.25"/><circle cx="334.7" cy="522.7" r="1.25"/><circle cx="335.2" cy="512.5" r="1.25"/><circle cx="335.7" cy="521.9" r="1.25"/><circle cx="336.2" cy="511.3" r="1.25"/><circle cx="336.7" cy="523.0" r="1.25"/><circle cx="337.2" cy="523.7" r="1.25"/><circle cx="337.7" cy="523.7" r="1.25"/><circle cx="338.0" cy="512.0" r="1.25"/><circle cx="338.7" cy="512.8" r="1.25"/><circle cx="339.2" cy="519.3" r="1.25"/><circle cx="339.7" cy="517.7" r="1.25"/><circle cx="340.2" cy="513.5" r="1.25"/><circle cx="340.7" cy="511.7" r="1.25"/><circle cx="341.2" cy="518.0" r="1.25"/><circle cx="341.7" cy="513.1" r="1.25"/><circle cx="342.2" cy="521.2" r="1.25"/><circle cx="342.7" cy="519.4" r="1.25"/><circle cx="343.2" cy="511.8" r="1.25"/><circle cx="343.8" cy="515.5" r="1.25"/><circle cx="344.3" cy="515.2" r="1.25"/><circle cx="345.3" cy="524.9" r="1.25"/><circle cx="345.8" cy="512.2" r="1.25"/><circle cx="346.3" cy="513.2" r="1.25"/><circle cx="346.8" cy="514.5" r="1.25"/><circle cx="347.3" cy="517.8" r="1.25"/><circle cx="347.8" cy="512.0" r="1.25"/><circle cx="348.3" cy="516.0" r="1.25"/><circle cx="349.0" cy="509.7" r="1.25"/><circle cx="349.3" cy="524.4" r="1.25"/><circle cx="349.8" cy="521.7" r="1.25"/><circle cx="350.3" cy="516.1" r="1.25"/><circle cx="350.8" cy="523.2" r="1.25"/><circle cx="351.3" cy="516.2" r="1.25"/><circle cx="352.0" cy="511.2" r="1.25"/><circle cx="352.3" cy="516.9" r="1.25"/><circle cx="352.8" cy="521.9" r="1.25"/><circle cx="353.3" cy="524.8" r="1.25"/><circle cx="353.8" cy="518.6" r="1.25"/><circle cx="354.9" cy="518.4" r="1.25"/><circle cx="355.4" cy="521.5" r="1.25"/><circle cx="355.9" cy="515.3" r="1.25"/><circle cx="356.4" cy="524.6" r="1.25"/><circle cx="356.9" cy="515.7" r="1.25"/><circle cx="357.5" cy="515.8" r="1.25"/><circle cx="357.9" cy="512.2" r="1.25"/><circle cx="358.4" cy="524.4" r="1.25"/><circle cx="358.9" cy="519.2" r="1.25"/><circle cx="359.4" cy="522.2" r="1.25"/></g>
<rect x="187.3" y="516.800" width="172.800" height="6.800" rx="3.200" fill="#8f7ffa"/><path d="M222 523H352.500Q354 523 354 524.500V526.200Q354 527.600 352.500 527.600H230Q222 527.600 222 523Z" fill="#8f7ffa"/><rect x="188.500" y="525.700" width="40" height="1.300" rx=".6" fill="#8577ee"/><rect x="303.2" y="525.5" width="1.9" height="1.2" fill="#2a2a5e"/><rect x="317.7" y="526.0" width="0.8" height="0.9" fill="#2a2a5e"/><rect x="343.0" y="525.3" width="2.1" height="0.7" fill="#2a2a5e"/><rect x="284.2" y="524.2" width="1.6" height="0.9" fill="#2a2a5e"/><rect x="227.6" y="524.2" width="1.2" height="1.1" fill="#2a2a5e"/><rect x="320.9" y="524.0" width="1.9" height="0.7" fill="#2a2a5e"/><rect x="302.6" y="523.9" width="0.8" height="1.1" fill="#2a2a5e"/><rect x="252.0" y="524.2" width="2.2" height="1.1" fill="#2a2a5e"/><rect x="261.9" y="526.1" width="1.6" height="1.0" fill="#2a2a5e"/><rect x="251.4" y="526.0" width="1.8" height="1.2" fill="#2a2a5e"/><rect x="336.8" y="524.4" width="1.3" height="0.7" fill="#2a2a5e"/><rect x="244.1" y="523.8" width="1.2" height="1.0" fill="#2a2a5e"/><rect x="226.4" y="525.4" width="1.3" height="0.8" fill="#2a2a5e"/><rect x="327.5" y="524.8" width="1.2" height="0.9" fill="#2a2a5e"/><rect x="313.4" y="523.7" width="2.2" height="0.6" fill="#2a2a5e"/><rect x="319.0" y="525.8" width="0.8" height="1.1" fill="#2a2a5e"/><rect x="271.4" y="525.1" width="0.8" height="0.6" fill="#2a2a5e"/><rect x="248.4" y="526.1" width="1.1" height="1.1" fill="#2a2a5e"/><rect x="341.3" y="526.0" width="1.3" height="0.8" fill="#2a2a5e"/><rect x="291.1" y="525.6" width="1.0" height="1.0" fill="#2a2a5e"/><rect x="324.9" y="525.8" width="0.9" height="1.2" fill="#2a2a5e"/><rect x="237.3" y="524.5" width="1.7" height="1.2" fill="#2a2a5e"/><rect x="268.2" y="526.0" width="1.6" height="0.8" fill="#2a2a5e"/><rect x="265.3" y="524.1" width="0.9" height="0.7" fill="#2a2a5e"/><rect x="311.5" y="526.2" width="1.0" height="0.6" fill="#2a2a5e"/><rect x="348.4" y="525.0" width="1.4" height="0.7" fill="#2a2a5e"/>
<g font-size="7.4" fill="#a79cfb"><text x="261.3" y="429.6" text-anchor="middle">12273</text><text x="252.0" y="489.2" text-anchor="middle">4434</text><text x="248.6" y="501.8" text-anchor="middle">2786</text><text x="297.2" y="483.5" text-anchor="middle">5184</text><text x="310.3" y="467.2" text-anchor="middle">7332</text><text x="318.7" y="478.2" text-anchor="middle">5882</text><text x="290.0" y="498.5" text-anchor="middle">3217</text><text x="284.4" y="504.7" text-anchor="middle">2408</text><text x="302.3" y="503.2" text-anchor="middle">2602</text><text x="321.8" y="500.1" text-anchor="middle">3013</text><text x="344.8" y="497.7" text-anchor="middle">3326</text><text x="354.8" y="499.6" text-anchor="middle">3077</text><text x="353.0" y="506.0" text-anchor="middle">2098</text><text x="267.7" y="506.4" text-anchor="middle">2181</text><text x="331.0" y="509.0" text-anchor="middle">1844</text><text x="338.0" y="507.8" text-anchor="middle">1991</text><text x="275.0" y="510.1" text-anchor="middle">1699</text><text x="353.2" y="510.2" text-anchor="middle">2078</text><text x="243.0" y="508.5" text-anchor="middle">1911</text><text x="237.0" y="510.8" text-anchor="middle">1606</text><text x="231.0" y="512.5" text-anchor="middle">1385</text><text x="226.0" y="513.5" text-anchor="middle">1253</text><text x="306.0" y="507.8" text-anchor="middle">1998</text><text x="314.0" y="509.7" text-anchor="middle">1748</text><text x="326.0" y="511.2" text-anchor="middle">1544</text><text x="294.0" y="508.7" text-anchor="middle">1877</text><text x="280.0" y="512.3" text-anchor="middle">1411</text><text x="270.0" y="512.9" text-anchor="middle">1322</text></g>
</svg>

<div class="card" style="left:376.2px;top:357.2px;width:219.4px;height:245.6px;border-radius:2px"></div>
<div style="left:375.6px;top:356.6px;width:220.6px;height:246.8px;border:1.3px solid #3d73e6;border-radius:1px"></div>
<div class="hd" style="left:373.6px;top:354.6px"></div><div class="hd" style="left:592.8px;top:354.6px"></div><div class="hd" style="left:373.6px;top:600.2px"></div><div class="hd" style="left:592.8px;top:600.2px"></div>
<svg style="left:482.5px;top:360.5px" width="8" height="5" viewBox="0 0 8 5" fill="#6a6c92"><circle cx="1.2" cy="1.2" r=".7"/><circle cx="4" cy="1.2" r=".7"/><circle cx="6.800" cy="1.2" r=".7"/><circle cx="1.2" cy="3.700" r=".7"/><circle cx="4" cy="3.700" r=".7"/><circle cx="6.800" cy="3.700" r=".7"/></svg>
<div class="t ct" style="left:388.2px;top:374.4px">文章类型数量统计</div>
<div style="left:521px;top:368.2px;width:44.6px;height:12.6px;border:.7px solid #2d2f62;border-radius:3px;background:#1e204e"></div>
<svg style="left:523.6px;top:370.800px" width="7.400" height="7.400" viewBox="0 0 10 10"><path d="M5 0C5.400 3 7 4.600 10 5 7 5.400 5.400 7 5 10 4.600 7 3 5.400 0 5 3 4.600 4.600 3 5 0Z" fill="#3f7bf5"/></svg>
<div class="t" style="left:533.8px;top:374.6px;font-size:6.8px;color:#e8e8f2">智能分析</div>
<div style="left:563.3px;top:365.3px;width:3.6px;height:3.6px;border-radius:50%;background:#f0556a"></div>
<div style="left:570px;top:368.2px;width:12.2px;height:12.6px;border:.7px solid #2d2f62;border-radius:3px;background:#1e204e"></div>
<div class="t la" style="left:573.500px;top:373.800px;font-size:7px;color:#dcdcec;font-weight:bold">⋮</div>
<div class="dot" style="left:388.5px;top:390.1px;background:#8f80fb"></div><div class="t lg" style="left:396.7px;top:392.4px">转载文章</div>
<div class="dot" style="left:433.8px;top:390.1px;background:#a3cb2c"></div><div class="t lg" style="left:442.9px;top:392.4px">图文</div>
<div class="dot" style="left:464.9px;top:390.1px;background:#4c7cf3"></div><div class="t lg" style="left:473.3px;top:392.4px">纯文字</div>
<div class="dot" style="left:502.7px;top:390.1px;background:#2cc4b4"></div><div class="t lg" style="left:511.6px;top:392.4px">纯图片</div>
<svg style="left:0;top:0" width="1080" height="647" fill="none">
<path d="M456 430.500H468Q476 432 483 438" stroke="#3a3c68" stroke-width=".6"/>
<path d="M440 441.800H470L476 440" stroke="#3a3c68" stroke-width=".6"/>
<path d="M538 432.500H510Q502 434 497 440" stroke="#3a3c68" stroke-width=".6"/>
<path d="M412 554.500H440Q452 554 462 548" stroke="#3a3c68" stroke-width=".6"/>
<path d="M486.0 496.6L509.12 444.17A57.3 57.3 0 1 1 470.57 441.42Z" fill="#a3cb2c" stroke="#15163f" stroke-width="1" stroke-linejoin="round"/><path d="M486.0 496.6L486.00 439.30A57.3 57.3 0 0 1 509.12 444.17Z" fill="#8f80fb" stroke="#15163f" stroke-width="1" stroke-linejoin="round"/><path d="M486.0 496.6L470.57 441.42A57.3 57.3 0 0 1 478.57 439.78Z" fill="#4c7cf3" stroke="#15163f" stroke-width="1" stroke-linejoin="round"/><path d="M486.0 496.6L478.57 439.78A57.3 57.3 0 0 1 486.00 439.30Z" fill="#2cc4b4" stroke="#15163f" stroke-width="1" stroke-linejoin="round"/></svg>
<div class="t pl" style="left:388.2px;top:430.2px">纯图片: 10 (2.07%)</div>
<div class="t pl" style="left:388.2px;top:441.7px">纯文字: 11 (2....</div>
<div class="t pl" style="left:541.6px;top:431.7px">转载文章:</div>
<div class="t pl la" style="left:541.6px;top:441.3px">32 (6.61%)</div>
<div class="t pl" style="left:388.2px;top:554.4px">图文:</div>
<div class="t pl la" style="left:388.2px;top:563.5px">431 (89.05%)</div>

<div class="card" style="left:606px;top:356.3px;width:221.2px;height:248.3px"></div>
<div class="t ct" style="left:618.9px;top:374.3px">词云</div>
<svg style="left:0;top:0" width="1080" height="647" font-family="Liberation Sans, Noto Sans CJK SC, sans-serif"><text x="704.6" y="500.0" font-size="30.5" fill="#8f80fb">AI</text><text x="657.6" y="495.3" font-size="19.0" fill="#5580f5">Deep</text><text x="735.2" y="496.7" font-size="19.0" fill="#2cc4b4">Seek</text><text x="703.2" y="519.0" font-size="19.6" fill="#a3cb2c" font-weight="500">公司</text><text x="659.6" y="518.4" font-size="18.0" fill="#b56cf5">MCP</text><text x="747.4" y="515.8" font-size="16.2" fill="#a3cb2c" font-weight="500">名单</text><text x="698.2" y="473.5" font-size="17.6" fill="#f28e3c" font-weight="500">教程</text><text x="715.3" y="454.4" font-size="14.6" fill="#8f80fb" font-weight="500">神仙</text><text x="669.0" y="476.8" font-size="14.1" fill="#5580f5" font-weight="500">工具</text><text x="742.2" y="480.3" font-size="15.5" fill="#2cc4b4" font-weight="500">附</text><text x="753.6" y="460.4" font-size="13.1" fill="#2cc4b4" font-weight="500">词</text><text x="771.7" y="482.1" font-size="12.1" fill="#5580f5" font-weight="500">写</text><text x="789.7" y="490.6" font-size="12.1" fill="#2cc4b4" font-weight="500">做</text><text x="781.6" y="508.6" font-size="14.7" fill="#a3cb2c" font-weight="500">编程</text><text x="626.9" y="510.6" font-size="14.7" fill="#b56cf5" font-weight="500">开源</text><text x="627.9" y="535.6" font-size="14.2" fill="#a3cb2c" font-weight="500">学习</text><text x="663.0" y="537.2" font-size="15.7" fill="#f28e3c" font-weight="500">提示</text><text x="700.2" y="539.4" font-size="16.2" fill="#5580f5" font-weight="500">工作</text><text x="748.4" y="532.6" font-size="15.7" fill="#2cc4b4" font-weight="500">模型</text><text x="797.8" y="522.0" font-size="11.2" fill="#b56cf5" font-weight="500">中</text><text x="665.7" y="462.9" font-size="9.0" fill="#5580f5" font-weight="500">太</text><text x="636.0" y="492.1" font-size="6.6" fill="#5580f5">年</text><text x="671.6" y="503.4" font-size="8.7" fill="#b56cf5" opacity="0.85">GPT</text><text x="626.8" y="521.4" font-size="8.7" fill="#5580f5" opacity="0.9">MQ</text><text x="643.0" y="520.5" font-size="7.1" fill="#a3cb2c" opacity="0.9">开源</text><text x="641.8" y="544.7" font-size="8.8" fill="#f28e3c" opacity="0.45">Code</text><text x="734.4" y="440.5" font-size="7.0" fill="#5580f5" opacity="0.5">Code</text><text x="749.4" y="543.1" font-size="8.2" fill="#8f80fb" opacity="0.8">MCP</text><text x="689.2" y="504.2" font-size="5.0" fill="#a3cb2c" opacity="0.9">2025</text><text x="731.4" y="544.1" font-size="6.6" fill="#5580f5" opacity="0.4">2025</text><text x="781.7" y="527.7" font-size="7.6" fill="#f28e3c" opacity="0.9">工作</text><text x="784.3" y="535.5" font-size="6.7" fill="#2cc4b4" opacity="0.9">提示</text><text x="739.5" y="535.6" font-size="7.1" fill="#5580f5" opacity="0.9">级</text><text x="670.2" y="544.2" font-size="4.4" fill="#5580f5" opacity="0.8">Deep</text><text x="684.0" y="544.2" font-size="4.4" fill="#2cc4b4" opacity="0.8">Seek</text><text x="775.6" y="540.4" font-size="5.0" fill="#2cc4b4" opacity="0.8">Curs</text><text x="736.6" y="462.8" font-size="4.6" fill="#a3cb2c" opacity="0.9">万</text><text x="652.0" y="473.0" font-size="8.0" fill="#8f80fb" opacity="0.3">GPT</text><text x="739.0" y="525.8" font-size="5.0" fill="#5580f5" opacity="0.5">提示</text><text x="703.0" y="450.0" font-size="4.2" fill="#a3cb2c" opacity="0.6">光速</text><text x="689.0" y="462.5" font-size="4.2" fill="#8f80fb" opacity="0.5">神仙</text><text x="778.0" y="491.8" font-size="3.6" fill="#f28e3c" opacity="0.7">公司</text><text x="780.0" y="510.0" font-size="5.5" fill="#5580f5" opacity="0.35">工具</text><text x="648.0" y="481.6" font-size="4.5" fill="#2cc4b4" opacity="0.4">开源</text><text x="651.0" y="493.6" font-size="4.5" fill="#8f80fb" opacity="0.6">AI</text><text x="760.0" y="467.8" font-size="5.0" fill="#8f80fb" opacity="0.3">模型</text><text x="674.0" y="458.0" font-size="5.5" fill="#f28e3c" opacity="0.45">教程</text><text x="767.0" y="457.0" font-size="5.5" fill="#b56cf5" opacity="0.35">写</text><text x="761.0" y="471.8" font-size="5.0" fill="#5580f5" opacity="0.35">Cursor</text><text x="656.0" y="500.1" font-size="4.5" fill="#a3cb2c" opacity="0.4">编程</text><text x="731.0" y="477.9" font-size="4.0" fill="#a3cb2c" opacity="0.45">名单</text><text x="694.0" y="485.9" font-size="4.0" fill="#2cc4b4" opacity="0.5">词</text><text x="700.0" y="526.4" font-size="4.0" fill="#8f80fb" opacity="0.45">学习</text><text x="716.0" y="438.9" font-size="4.0" fill="#8f80fb" opacity="0.4">Code</text><text x="745.0" y="463.4" font-size="4.0" fill="#f28e3c" opacity="0.5">做</text><text x="773.0" y="465.8" font-size="5.0" fill="#2cc4b4" opacity="0.3">年</text><text x="805.0" y="495.6" font-size="4.5" fill="#5580f5" opacity="0.4">中</text><text x="640.0" y="499.4" font-size="4.0" fill="#f28e3c" opacity="0.5">太</text><text x="692.9" y="440.9" font-size="4.5" fill="#b56cf5" opacity="0.4">大</text><text x="789.1" y="476.5" font-size="4" fill="#5580f5" opacity="0.4">的</text><text x="788.3" y="472.0" font-size="4" fill="#b56cf5" opacity="0.5">大</text><text x="641.1" y="484.5" font-size="4.5" fill="#f28e3c" opacity="0.6">级</text><text x="769.4" y="451.5" font-size="5" fill="#5580f5" opacity="0.6">写</text><text x="751.8" y="443.2" font-size="3.2" fill="#f28e3c" opacity="0.6">的</text><text x="655.1" y="458.5" font-size="4.5" fill="#b56cf5" opacity="0.4">你</text><text x="704.6" y="456.0" font-size="5.5" fill="#5580f5" opacity="0.4">万</text><text x="789.4" y="518.3" font-size="3.2" fill="#8f80fb" opacity="0.5">年</text><text x="765.2" y="479.4" font-size="4" fill="#2cc4b4" opacity="0.5">你</text><text x="682.1" y="448.6" font-size="4" fill="#b56cf5" opacity="0.4">Code</text><text x="776.4" y="458.9" font-size="5.5" fill="#f28e3c" opacity="0.6">工具</text><text x="682.6" y="444.4" font-size="4" fill="#2cc4b4" opacity="0.6">附</text><text x="695.6" y="447.2" font-size="5.5" fill="#f28e3c" opacity="0.3">大</text><text x="628.8" y="480.1" font-size="4.5" fill="#b56cf5" opacity="0.5">名单</text><text x="657.3" y="532.8" font-size="3.2" fill="#f28e3c" opacity="0.4">了</text><text x="784.3" y="514.4" font-size="4" fill="#5580f5" opacity="0.5">词</text><text x="667.1" y="450.6" font-size="5" fill="#b56cf5" opacity="0.3">学习</text><text x="801.9" y="478.3" font-size="4" fill="#5580f5" opacity="0.5">大</text><text x="643.1" y="472.8" font-size="4.5" fill="#b56cf5" opacity="0.4">词</text><text x="689.2" y="453.1" font-size="3.6" fill="#2cc4b4" opacity="0.5">免费</text><text x="707.6" y="443.1" font-size="3.6" fill="#a3cb2c" opacity="0.5">上</text><text x="795.5" y="473.6" font-size="3.6" fill="#5580f5" opacity="0.4">的</text><text x="661.1" y="450.9" font-size="3.2" fill="#b56cf5" opacity="0.4">词</text><text x="636.3" y="471.1" font-size="4" fill="#b56cf5" opacity="0.6">个</text><text x="783.2" y="469.0" font-size="3.6" fill="#5580f5" opacity="0.6">年</text><text x="627.6" y="496.1" font-size="3.2" fill="#5580f5" opacity="0.5">Code</text><text x="787.9" y="466.5" font-size="4.5" fill="#5580f5" opacity="0.6">个</text><text x="702.3" y="445.1" font-size="3.2" fill="#b56cf5" opacity="0.3">AI</text><text x="748.9" y="447.7" font-size="3.2" fill="#5580f5" opacity="0.4">Deep</text><text x="734.3" y="526.2" font-size="3.2" fill="#8f80fb" opacity="0.6">太</text><text x="804.7" y="490.5" font-size="3.6" fill="#2cc4b4" opacity="0.4">级</text><text x="708.0" y="438.2" font-size="3.2" fill="#f28e3c" opacity="0.4">用</text><text x="692.6" y="513.2" font-size="3.2" fill="#a3cb2c" opacity="0.5">用</text><text x="698.0" y="519.0" font-size="4" fill="#8f80fb" opacity="0.6">年</text><text x="698.5" y="513.1" font-size="3.6" fill="#f28e3c" opacity="0.4">词</text><text x="657.8" y="529.3" font-size="3.2" fill="#8f80fb" opacity="0.5">词</text><text x="630.1" y="487.1" font-size="4.5" fill="#2cc4b4" opacity="0.4">我</text><text x="650.2" y="487.6" font-size="4.5" fill="#5580f5" opacity="0.5">用</text><text x="641.8" y="477.3" font-size="4" fill="#2cc4b4" opacity="0.6">写</text><text x="647.7" y="464.2" font-size="5" fill="#5580f5" opacity="0.5">GPT</text><text x="639.1" y="467.1" font-size="3.2" fill="#b56cf5" opacity="0.5">Seek</text><text x="785.0" y="481.3" font-size="3.6" fill="#f28e3c" opacity="0.6">附</text><text x="693.1" y="457.5" font-size="3.2" fill="#b56cf5" opacity="0.6">级</text><text x="656.5" y="453.9" font-size="3.6" fill="#a3cb2c" opacity="0.5">大</text><text x="660.6" y="464.0" font-size="3.6" fill="#f28e3c" opacity="0.6">用</text><text x="737.2" y="471.7" font-size="3.6" fill="#f28e3c" opacity="0.4">一</text><text x="733.8" y="537.3" font-size="4" fill="#a3cb2c" opacity="0.3">附</text><text x="726.9" y="440.3" font-size="3.2" fill="#5580f5" opacity="0.3">免费</text><text x="645.2" y="489.8" font-size="3.2" fill="#f28e3c" opacity="0.5">级</text><text x="736.8" y="467.2" font-size="3.6" fill="#5580f5" opacity="0.3">我</text><text x="691.9" y="520.9" font-size="4" fill="#2cc4b4" opacity="0.4">一</text><text x="630.2" y="491.2" font-size="3.6" fill="#a3cb2c" opacity="0.5">太</text><text x="784.2" y="519.4" font-size="3.2" fill="#5580f5" opacity="0.6">我</text><text x="746.6" y="453.9" font-size="3.2" fill="#5580f5" opacity="0.3">我</text><text x="680.2" y="463.6" font-size="4" fill="#5580f5" opacity="0.5">了</text><text x="762.5" y="446.7" font-size="3.6" fill="#2cc4b4" opacity="0.3">个</text><text x="649.4" y="477.0" font-size="3.2" fill="#b56cf5" opacity="0.6">太</text><text x="642.7" y="461.9" font-size="3.2" fill="#2cc4b4" opacity="0.3">写</text><text x="644.3" y="494.6" font-size="5" fill="#5580f5" opacity="0.6">万</text><text x="751.8" y="465.9" font-size="3.6" fill="#a3cb2c" opacity="0.3">个</text><text x="780.8" y="487.8" font-size="4" fill="#8f80fb" opacity="0.4">免费</text><text x="659.4" y="477.0" font-size="3.2" fill="#8f80fb" opacity="0.5">用</text><text x="796.3" y="469.2" font-size="3.6" fill="#2cc4b4" opacity="0.6">新</text><text x="688.6" y="441.8" font-size="3.2" fill="#f28e3c" opacity="0.3">最</text><text x="726.2" y="545.0" font-size="3.6" fill="#f28e3c" opacity="0.5">年</text><text x="633.7" y="475.5" font-size="3.6" fill="#5580f5" opacity="0.3">附</text><text x="694.7" y="507.9" font-size="3.2" fill="#b56cf5" opacity="0.3">学习</text><text x="708.6" y="544.5" font-size="3.2" fill="#b56cf5" opacity="0.5">开源</text><text x="804.1" y="485.4" font-size="5.5" fill="#5580f5" opacity="0.4">的</text></svg>
</div>
<!-- PANEL -->
<div id="panel" style="left:841.3px;top:61.7px;width:205px;height:551px;background:#fff"></div>
<div class="t" style="left:854.1px;top:80.6px;font-size:9.6px;color:#1f2329;font-weight:500">饼图</div>
<svg style="left:1034.100px;top:77.100px" width="7" height="7" viewBox="0 0 7 7" fill="none" stroke="#50565e" stroke-width=".9" stroke-linecap="round"><path d="M.6.6L6.400 6.400M6.400.6L.6 6.400"/></svg>
<div class="t" style="left:854.1px;top:107.9px;font-size:8.6px;color:#1c5cf0;font-weight:500">基础配置</div>
<div class="t" style="left:906.1px;top:107.9px;font-size:8.6px;color:#1f2329">自定义配置</div>
<div class="t" style="left:966.9px;top:107.9px;font-size:8.6px;color:#1f2329">分析</div>
<div style="left:854.1px;top:120.9px;width:34.4px;height:1.5px;background:#1c5cf0"></div>
<div style="left:854px;top:122.3px;width:192px;height:.7px;background:#eceef1"></div>
<div class="t pt" style="top:141.6px">标题</div>
<div class="bx" style="top:152.5px;height:20.0px"></div>
<div class="t" style="left:860.6px;top:162.8px;font-size:8.55px;color:#1f2329">文章类型数量统计</div>
<div class="t pt" style="top:192.7px">数据源</div>
<div class="bx" style="top:203.3px;height:19.099999999999994px"></div>
<svg style="left:861px;top:208.8px" width="8" height="8" viewBox="0 0 8 8" fill="none" stroke="#50565e" stroke-width=".8"><rect x=".5" y=".5" width="7" height="7" rx=".8"/><path d="M.5 2.800H7.500M.5 5.200H7.500M3 2.800V7.500"/></svg>
<div class="t" style="left:872.3px;top:212.8px;font-size:8.55px;color:#1f2329">数据表</div>
<svg style="left:1030.500px;top:210.6px" width="6.600" height="4.400" viewBox="0 0 6.600 4.400" fill="none" stroke="#2b2f36" stroke-width="1.100" stroke-linecap="round" stroke-linejoin="round"><path d="M.7.800L3.300 3.400 5.900.8"/></svg>
<div style="left:854.1px;top:230.0px;width:9.4px;height:9.4px;border-radius:2px;border:.9px solid #8f959e;background:#fff"></div>
<div class="t" style="left:869.4px;top:234.7px;font-size:8.45px;color:#1f2329">多数据源模式</div>
<div style="left:925.8px;top:230.3px;width:28.7px;height:9px;border-radius:2px;background:#fdf0e0"></div><div class="t" style="left:928.2px;top:234.8px;font-size:6px;color:#f08020">增值功能</div>
<div class="t pt" style="top:260.6px">数据范围</div>
<div class="bx" style="top:270.8px;height:19.69999999999999px"></div>
<svg style="left:861px;top:276.6px" width="8" height="8" viewBox="0 0 8 8" fill="none" stroke="#50565e" stroke-width=".8"><rect x=".5" y=".5" width="7" height="7" rx=".8"/><path d="M.5 2.800H7.500M.5 5.200H7.500M3 2.800V7.500"/></svg>
<div class="t" style="left:873.2px;top:280.6px;font-size:8.55px;color:#1f2329">全部数据</div>
<svg style="left:1017px;top:277.300px" width="7" height="7" viewBox="0 0 7 7" fill="none" stroke="#2b5bf0" stroke-width=".8" stroke-linejoin="round"><path d="M.6.8H6.400L4.200 3.400V6L2.800 5.300V3.400Z"/></svg><div class="t" style="left:1026px;top:280.6px;font-size:6.9px;color:#2b5bf0">筛选</div>
<div style="left:854px;top:305.2px;width:192px;height:.7px;background:#eceef1"></div>
<div class="t pt" style="top:324.7px">图表类型</div>
<div class="bx" style="top:335.4px;height:19.700000000000045px"></div>
<svg style="left:861px;top:341.100px" width="8.200" height="8.200" viewBox="0 0 8.200 8.200" fill="none" stroke="#50565e" stroke-width=".8"><circle cx="4.100" cy="4.100" r="3.500"/><path d="M4.100.6V4.100H7.600M4.100 4.100V7.600" stroke-linejoin="round"/></svg>
<div class="t" style="left:875.2px;top:345.2px;font-size:8.55px;color:#1f2329">饼图</div>
<svg style="left:1030.500px;top:343.0px" width="6.600" height="4.400" viewBox="0 0 6.600 4.400" fill="none" stroke="#2b2f36" stroke-width="1.100" stroke-linecap="round" stroke-linejoin="round"><path d="M.7.800L3.300 3.400 5.900.8"/></svg>
<div class="t pt" style="top:374.5px">主题色</div>
<div class="bx" style="top:385.4px;height:19.100000000000023px"></div>
<div style="left:860px;top:390.4px;width:59.3px;height:9.7px;border-radius:3px;background:linear-gradient(90deg,#8f80fb 0 16.660%,#a3cb2c 16.660% 33.330%,#4c7cf3 33.330% 50%,#2cc4b4 50% 66.660%,#f28e3c 66.660% 83.330%,#b350f2 83.330% 100%)"></div>
<div style="left:922.8px;top:391px;width:15.6px;height:8.6px;border-radius:1.5px;background:#eceef1"></div><div class="t" style="left:924.8px;top:395.3px;font-size:5.8px;color:#646a73">默认</div>
<svg style="left:1030.500px;top:393.0px" width="6.600" height="4.400" viewBox="0 0 6.600 4.400" fill="none" stroke="#2b2f36" stroke-width="1.100" stroke-linecap="round" stroke-linejoin="round"><path d="M.7.800L3.300 3.400 5.900.8"/></svg>
<div class="t pt" style="top:423.9px">图表选项</div>
<div style="left:854.1px;top:436.7px;width:9.4px;height:9.4px;border-radius:2px;background:#1c5cf0"></div><svg style="left:855.8000000000001px;top:438.79999999999995px" width="6" height="5" viewBox="0 0 6 5" fill="none" stroke="#fff" stroke-width="1.100" stroke-linecap="round" stroke-linejoin="round"><path d="M.8 2.500L2.400 4 5.200.9"/></svg>
<div class="t" style="left:868.8px;top:441.4px;font-size:8.45px;color:#1f2329">图例</div>
<div style="left:950.1px;top:436.7px;width:9.4px;height:9.4px;border-radius:2px;background:#1c5cf0"></div><svg style="left:951.8000000000001px;top:438.79999999999995px" width="6" height="5" viewBox="0 0 6 5" fill="none" stroke="#fff" stroke-width="1.100" stroke-linecap="round" stroke-linejoin="round"><path d="M.8 2.500L2.400 4 5.200.9"/></svg>
<div class="t" style="left:965.4px;top:441.4px;font-size:8.45px;color:#1f2329">数据标签</div>
<div style="left:854px;top:463.3px;width:192px;height:.7px;background:#f0f1f4"></div>
<div class="t pt" style="top:482.5px">扇区分组</div>
<div class="bx" style="top:493.1px;height:19.100000000000023px"></div>
<svg style="left:861px;top:499px" width="8.200" height="8.200" viewBox="0 0 8.200 8.200" fill="none" stroke="#50565e" stroke-width=".8" stroke-linecap="round" stroke-linejoin="round"><circle cx="4.100" cy="4.100" r="3.500"/><path d="M2.600 3.500L4.100 5 5.600 3.500"/></svg>
<div class="t" style="left:872.3px;top:503.1px;font-size:8.55px;color:#1f2329">类型</div>
<svg style="left:1030.500px;top:500.9px" width="6.600" height="4.400" viewBox="0 0 6.600 4.400" fill="none" stroke="#2b2f36" stroke-width="1.100" stroke-linecap="round" stroke-linejoin="round"><path d="M.7.800L3.300 3.400 5.900.8"/></svg>
<div style="left:854.1px;top:519.8px;width:9.4px;height:9.4px;border-radius:2px;background:#1c5cf0"></div><svg style="left:855.8000000000001px;top:521.9px" width="6" height="5" viewBox="0 0 6 5" fill="none" stroke="#fff" stroke-width="1.100" stroke-linecap="round" stroke-linejoin="round"><path d="M.8 2.500L2.400 4 5.200.9"/></svg>
<div class="t" style="left:868.8px;top:524.5px;font-size:8.45px;color:#1f2329">汇总相同的类别</div>
<div class="t pt" style="top:550.5px">排序依据</div>
<div class="bx" style="top:561.8px;height:18.600000000000023px"></div>
<div style="left:983px;top:564.2px;width:59.6px;height:13.8px;border-radius:2.5px;background:#e9eefe"></div>
<div class="t" style="left:886.4px;top:571.2px;font-size:6.9px;color:#1f2329;transform:translate(-50%,-50%)">扇区字段值</div>
<div class="t" style="left:949.5px;top:571.2px;font-size:6.9px;color:#1f2329;transform:translate(-50%,-50%)">扇区数值</div>
<div class="t" style="left:1012.8px;top:571.2px;font-size:6.9px;color:#1c5cf0;transform:translate(-50%,-50%)">记录顺序</div>
<div style="left:854px;top:595.4px;width:192px;height:.7px;background:#eceef1"></div>
</div>
<div id="wm" style="position:absolute;left:824.5px;top:614px;font-size:24.5px;line-height:1;transform:translateY(-50%);white-space:nowrap;color:#fff;text-shadow:1px 1px 1px rgba(0,0,0,.75),0 0 2px rgba(0,0,0,.45);font-family:'Liberation Sans','Noto Sans CJK SC',sans-serif">掘金技术社区 @ 苍何</div>
</body>
</html>
